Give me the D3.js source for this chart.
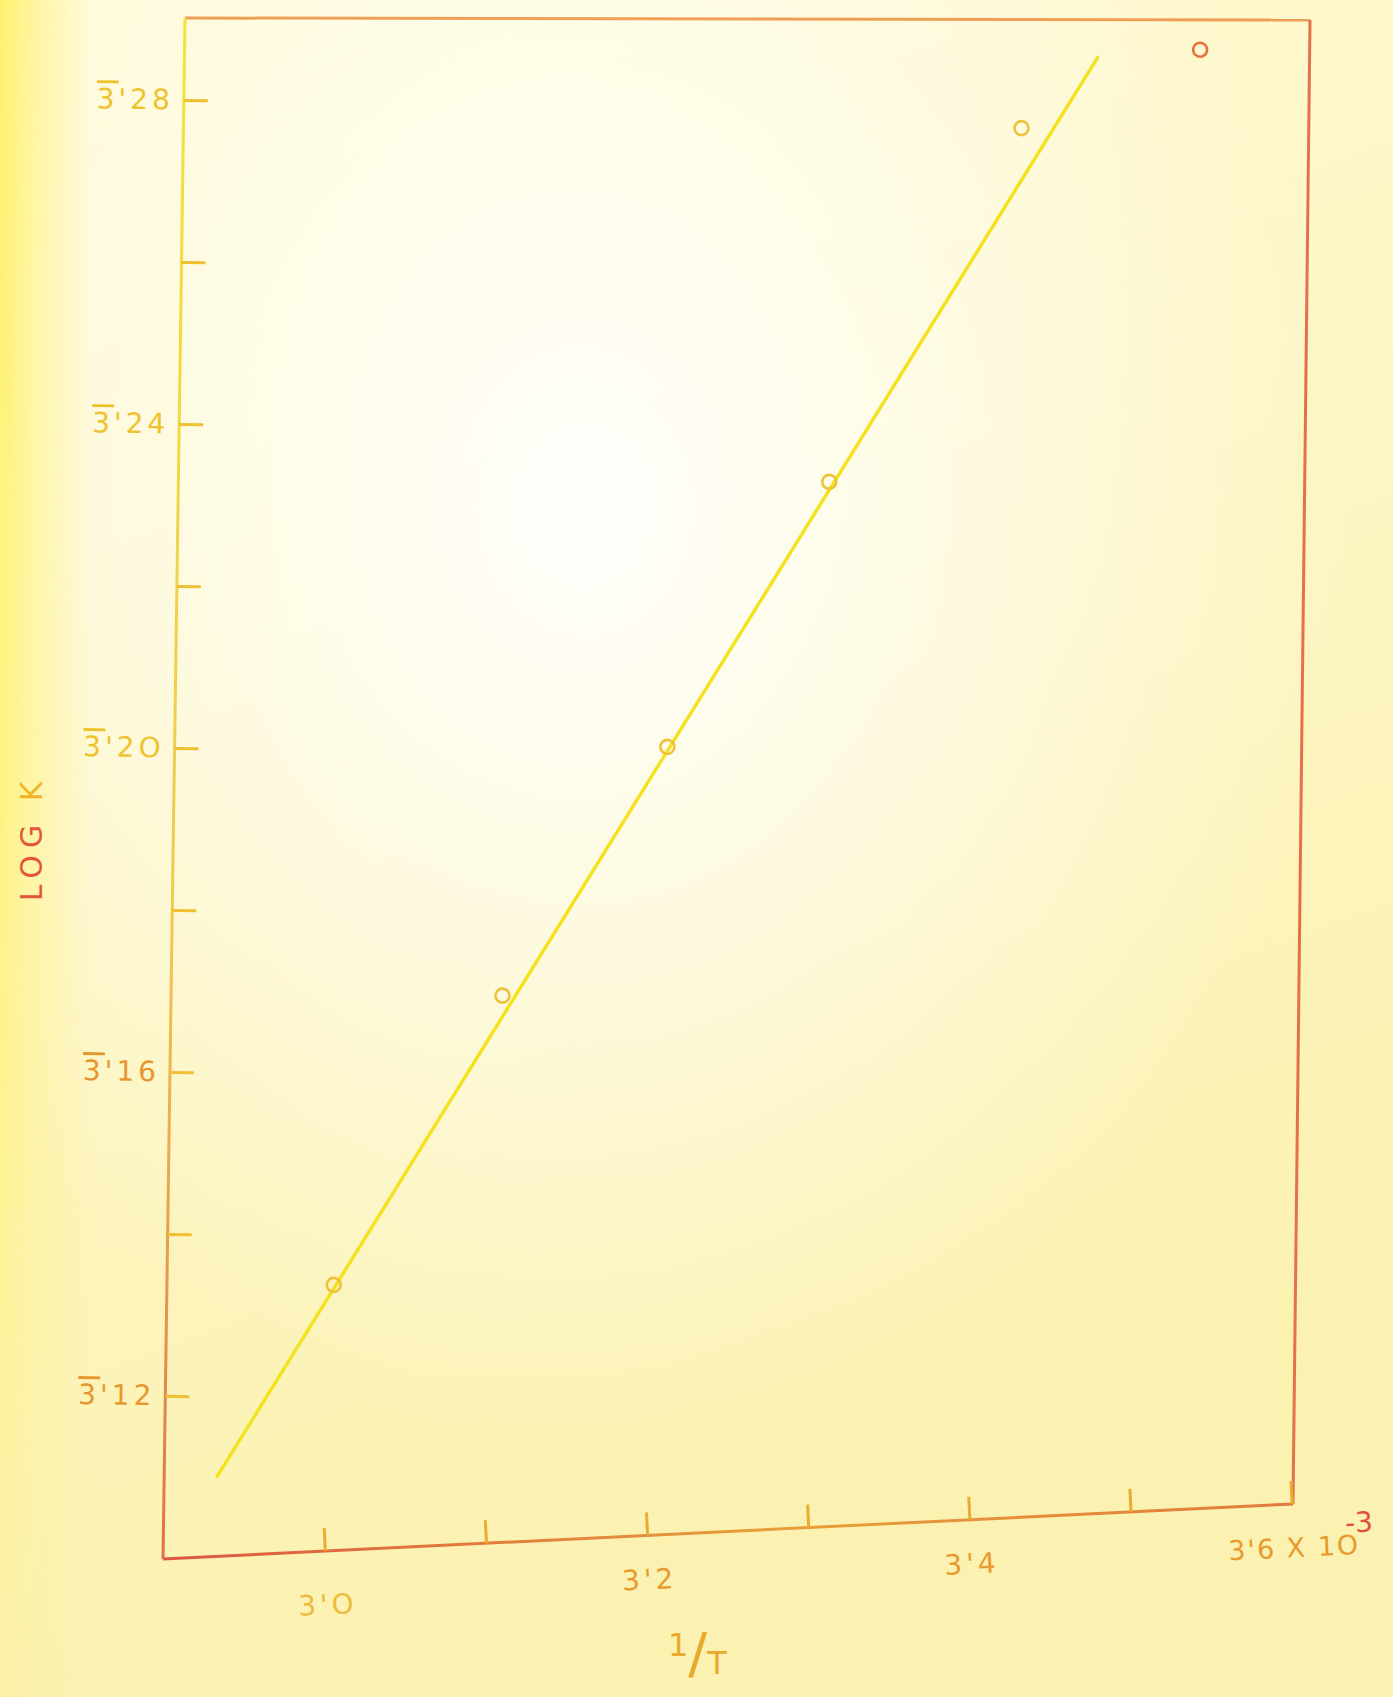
<!DOCTYPE html>
<html>
<head>
<meta charset="utf-8">
<script src="https://cdn.jsdelivr.net/npm/d3@7"></script>
<style>
    html, body { margin: 0; padding: 0; background: #fcf6c2; }
    svg { display: block; }
</style>
</head>
<body>
<svg id="chart" width="1393" height="1697"></svg>
<script>
'use strict';

// measured points: 1/T (x 10^-3) against log K (bar-3 characteristic)
const invT = [3.003, 3.105, 3.205, 3.303, 3.419, 3.529];
const logK = [3.134, 3.170, 3.201, 3.234, 3.278, 3.288];

// ends of the hand drawn straight line
const fitInvT = [2.932, 3.466];
const fitLogK = [3.110, 3.287];

const xTicks = [3.0, 3.1, 3.2, 3.3, 3.4, 3.5, 3.6];
const xLabels = ["3'O", '', "3'2", '', "3'4", '', "3'6"];
const yTicks = [3.12, 3.14, 3.16, 3.18, 3.20, 3.22, 3.24, 3.26, 3.28];
const yLabels = ["'12", '', "'16", '', "'2O", '', "'24", '', "'28"];

(function(doc) {

    const svg = d3.select('#chart');
    const font = "'DejaVu Sans', sans-serif";

    // scan geometry: the page was photographed a bit askew
    const corner = {
        tl: [185, 18], tr: [1310, 20], br: [1293, 1504], bl: [163, 1559]
    };
    const leftTilt = 0.818;
    const bottomTilt = -2.787;

    const x = d3.scaleLinear().domain([3.0, 3.6]).range([162, 1130]);
    const y = d3.scaleLinear().domain([3.12, 3.28]).range([1378, 82]);

    // paper background
    const defs = svg.append('defs');
    const paper = defs.append('linearGradient').attr('id', 'paper')
        .attr('x1', 0).attr('y1', 0).attr('x2', 0.3).attr('y2', 1);
    paper.append('stop').attr('offset', '0%').attr('stop-color', '#fffad6');
    paper.append('stop').attr('offset', '100%').attr('stop-color', '#fbf1b0');
    const glow = defs.append('radialGradient').attr('id', 'glow')
        .attr('cx', 0.42).attr('cy', 0.3).attr('r', 0.55);
    glow.append('stop').attr('offset', '0%').attr('stop-color', '#ffffff').attr('stop-opacity', 0.95);
    glow.append('stop').attr('offset', '100%').attr('stop-color', '#ffffff').attr('stop-opacity', 0);
    const edge = defs.append('linearGradient').attr('id', 'edge')
        .attr('x1', 0).attr('y1', 0).attr('x2', 1).attr('y2', 0);
    edge.append('stop').attr('offset', '0%').attr('stop-color', '#fff06a').attr('stop-opacity', 1);
    edge.append('stop').attr('offset', '40%').attr('stop-color', '#fff27e').attr('stop-opacity', 0.6);
    edge.append('stop').attr('offset', '100%').attr('stop-color', '#fff27e').attr('stop-opacity', 0);
    const fade = defs.append('linearGradient').attr('id', 'fade')
        .attr('x1', 0).attr('y1', 0).attr('x2', 0).attr('y2', 1);
    fade.append('stop').attr('offset', '0%').attr('stop-color', '#fff').attr('stop-opacity', 1);
    fade.append('stop').attr('offset', '45%').attr('stop-color', '#fff').attr('stop-opacity', 0.8);
    fade.append('stop').attr('offset', '100%').attr('stop-color', '#fff').attr('stop-opacity', 0.15);
    defs.append('mask').attr('id', 'edgeMask')
        .append('rect').attr('width', 90).attr('height', 1697).attr('fill', 'url(#fade)');
    const leftLine = defs.append('linearGradient').attr('id', 'leftLine')
        .attr('gradientUnits', 'userSpaceOnUse')
        .attr('x1', 0).attr('y1', corner.tl[1]).attr('x2', 0).attr('y2', corner.bl[1]);
    leftLine.append('stop').attr('offset', '0%').attr('stop-color', '#f6e23c');
    leftLine.append('stop').attr('offset', '60%').attr('stop-color', '#f0c850');
    leftLine.append('stop').attr('offset', '100%').attr('stop-color', '#e0704a');
    const bottomLine = defs.append('linearGradient').attr('id', 'bottomLine')
        .attr('gradientUnits', 'userSpaceOnUse')
        .attr('x1', corner.bl[0]).attr('y1', 0).attr('x2', corner.br[0]).attr('y2', 0);
    bottomLine.append('stop').attr('offset', '0%').attr('stop-color', '#dc5642');
    bottomLine.append('stop').attr('offset', '55%').attr('stop-color', '#e8a038');
    bottomLine.append('stop').attr('offset', '100%').attr('stop-color', '#e27a3c');

    svg.append('rect').attr('width', 1393).attr('height', 1697).attr('fill', 'url(#paper)');
    svg.append('rect').attr('width', 1393).attr('height', 1697).attr('fill', 'url(#glow)');
    svg.append('rect').attr('width', 90).attr('height', 1697)
        .attr('fill', 'url(#edge)').attr('mask', 'url(#edgeMask)');

    // frame
    const frame = [
        [corner.tl, corner.tr, '#f0a056'],
        [corner.tr, corner.br, '#e6704a'],
        [corner.br, corner.bl, 'url(#bottomLine)'],
        [corner.bl, corner.tl, 'url(#leftLine)']
    ];
    for (const [a, b, stroke] of frame) {
        svg.append('line')
            .attr('x1', a[0]).attr('y1', a[1]).attr('x2', b[0]).attr('y2', b[1])
            .attr('stroke', stroke).attr('stroke-width', 3);
    }

    const plot = svg.append('g')
        .attr('transform', `translate(${corner.tl[0]}, ${corner.tl[1]}) rotate(${leftTilt})`);

    // y axis, ticks point inward
    const yAxis = plot.append('g')
        .call(d3.axisLeft(y).tickValues(yTicks).tickSizeInner(-24).tickSizeOuter(0).tickPadding(10));
    yAxis.select('.domain').remove();
    yAxis.selectAll('.tick line').attr('stroke', '#efbf34').attr('stroke-width', 3);
    yAxis.selectAll('.tick text').each(function(d, i) {
        const t = d3.select(this).text('')
            .attr('font-family', font).attr('font-size', 28)
            .attr('letter-spacing', 4)
            .attr('fill', i < 3 ? '#e7962e' : '#eec22c');
        if (yLabels[i] === '') return;
        t.append('tspan').text('3').style('text-decoration', 'overline');
        t.append('tspan').text(yLabels[i]);
    });

    // x axis along the tilted bottom edge
    const xAxis = svg.append('g')
        .attr('transform', `translate(${corner.bl[0]}, ${corner.bl[1]}) rotate(${bottomTilt})`)
        .call(d3.axisBottom(x).tickValues(xTicks).tickSizeInner(-23).tickSizeOuter(0).tickPadding(34));
    xAxis.select('.domain').remove();
    xAxis.selectAll('.tick line').attr('stroke', '#e9ad30').attr('stroke-width', 3);
    xAxis.selectAll('.tick text').each(function(d, i) {
        const t = d3.select(this).text(xLabels[i])
            .attr('font-family', font).attr('font-size', 28)
            .attr('letter-spacing', 4)
            .attr('fill', i === 0 ? '#eebc3c' : '#e89a2c');
        if (i === 0) t.attr('dy', '1.05em');
        if (i === xTicks.length - 1) {
            t.attr('text-anchor', 'start').attr('dx', -66)
                .attr('font-size', 27).attr('letter-spacing', 2);
            t.append('tspan').text(' X 1O');
            t.append('tspan').text('-3').attr('dy', -22).attr('dx', -14)
                .attr('font-size', 28).attr('letter-spacing', 0).attr('fill', '#e0503a');
        }
    });

    // fitted line then points
    const line = d3.line().x(d => x(d[0])).y(d => y(d[1]));
    plot.append('path')
        .datum(fitInvT.map((v, i) => [v, fitLogK[i]]))
        .attr('d', line)
        .attr('fill', 'none')
        .attr('stroke', '#f3e21c')
        .attr('stroke-width', 3.4);

    plot.selectAll('circle.pt')
        .data(invT.map((v, i) => [v, logK[i]]))
        .join('circle')
        .attr('class', 'pt')
        .attr('cx', d => x(d[0]))
        .attr('cy', d => y(d[1]))
        .attr('r', 7)
        .attr('fill', 'none')
        .attr('stroke', (d, i) => i === invT.length - 1 ? '#e4703e' : '#eec23a')
        .attr('stroke-width', 2.6);

    // axis titles
    const yTitle = svg.append('text')
        .attr('transform', 'translate(42, 838) rotate(-90)')
        .attr('text-anchor', 'middle')
        .attr('font-family', font).attr('font-size', 30)
        .attr('letter-spacing', 7);
    yTitle.append('tspan').text('LOG').attr('fill', '#e2563c');
    yTitle.append('tspan').text(' K').attr('fill', '#f0b424');

    const xTitle = svg.append('text')
        .attr('x', 668).attr('y', 1668)
        .attr('font-family', font).attr('fill', '#e8aa2a');
    xTitle.append('tspan').text('1').attr('font-size', 32).attr('dy', -12);
    xTitle.append('tspan').text('/').attr('font-size', 56).attr('dy', 16);
    xTitle.append('tspan').text('T').attr('font-size', 32).attr('dy', 2);

}(document));
</script>
</body>
</html>
